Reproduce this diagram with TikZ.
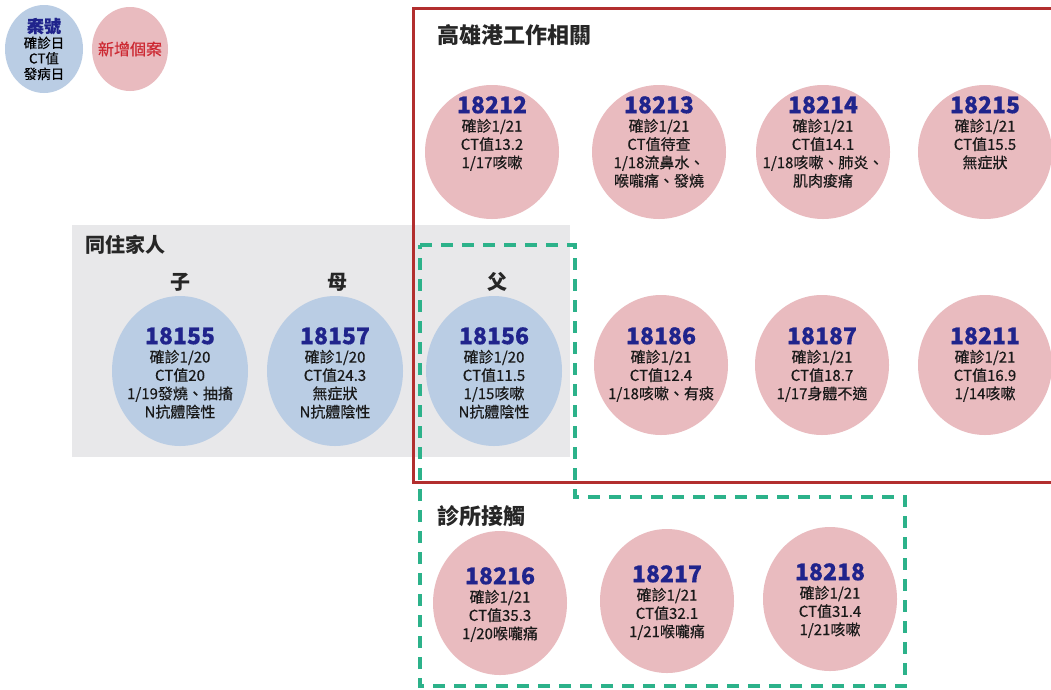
\documentclass[tikz,border=0pt]{standalone}
\usepackage{fontspec}
\setmainfont{Noto Sans CJK TC}
\newfontfamily\medfont{Noto Sans CJK TC}[FakeBold=0.4]
\usetikzlibrary{shapes.geometric}
\definecolor{pinkc}{RGB}{233,187,191}
\definecolor{bluec}{RGB}{186,205,228}
\definecolor{grayc}{RGB}{232,232,234}
\definecolor{redc}{RGB}{178,46,46}
\definecolor{greenc}{RGB}{44,178,138}
\definecolor{navyc}{RGB}{32,36,140}
\definecolor{legred}{RGB}{205,40,50}
\newcommand\cnum[1]{{\fontsize{23}{23}\selectfont\bfseries\color{navyc}#1}}
\tikzset{
  pcase/.style={ellipse, fill=pinkc, minimum width=134pt, minimum height=134pt, inner sep=0pt},
  bcase/.style={ellipse, fill=bluec, minimum width=136pt, minimum height=150pt, inner sep=0pt},
  ctext/.style={align=center, inner sep=0pt, anchor=north, font=\medfont\fontsize{15}{18.3}\selectfont, text=black!90},
  title/.style={anchor=west, inner sep=0pt, font=\fontsize{22}{22}\selectfont\bfseries, text=black!85},
  rel/.style={inner sep=0pt, font=\fontsize{20}{20}\selectfont\bfseries, text=black!85},
  redframe/.style={draw=redc, line width=3pt},
  greenframe/.style={draw=greenc, line width=4pt, dash pattern=on 12pt off 9pt},
}
\begin{document}
\begin{tikzpicture}[x=1pt,y=-1pt]
\useasboundingbox (0,0) rectangle (1051,689);
\fill[white] (0,0) rectangle (1051,689);
% legend
\node[ellipse, fill=bluec, minimum width=78pt, minimum height=88pt, inner sep=0pt] (legb) at (44,49) {};
\node[align=center, inner sep=0pt, font=\medfont\fontsize{13.5}{15.5}\selectfont] (legbt) at (44,49)
  {{\fontsize{17}{17}\selectfont\bfseries\color{navyc}案號}\\確診日\\CT值\\發病日};
\node[ellipse, fill=pinkc, minimum width=76pt, minimum height=84pt, inner sep=0pt] (legp) at (130,49) {};
\node[inner sep=0pt, font=\medfont\fontsize{16}{16}\selectfont, text=legred] (legpt) at (130,49) {新增個案};
% gray family box
\fill[grayc] (72,225) rectangle (570,457);
\node[title, font=\fontsize{20}{20}\selectfont\bfseries] (fam) at (85,245) {同住家人};
\node[rel] (son) at (180,282) {子};
\node[rel] (mom) at (337,282) {母};
\node[rel] (dad) at (497,282) {父};
% red frame
\draw[redframe] (1055,8) -- (413,8) -- (413,482) -- (1055,482);
\node[title] (port) at (437,35) {高雄港工作相關};
% green frame
\draw[greenframe] (420,245) -- (575,245) -- (575,497) -- (905,497) -- (905,686) -- (420,686) -- cycle;
\node[title] (clinic) at (437,516) {診所接觸};
% row 1
\node[pcase] (c18212) at (492,152) {};
\node[ctext] (t18212) at (492,96) {\cnum{18212}\\確診1/21\\CT值13.2\\1/17咳嗽};
\node[pcase] (c18213) at (659,152) {};
\node[ctext] (t18213) at (659,96) {\cnum{18213}\\確診1/21\\CT值待查\\1/18流鼻水、\\喉嚨痛、發燒};
\node[pcase] (c18214) at (823,152) {};
\node[ctext] (t18214) at (823,96) {\cnum{18214}\\確診1/21\\CT值14.1\\1/18咳嗽、肺炎、\\肌肉痠痛};
\node[pcase] (c18215) at (985,152) {};
\node[ctext] (t18215) at (985,96) {\cnum{18215}\\確診1/21\\CT值15.5\\無症狀};
% row 2 family
\node[bcase] (c18155) at (180,371) {};
\node[ctext] (t18155) at (180,327) {\cnum{18155}\\確診1/20\\CT值20\\1/19發燒、抽搐\\N抗體陰性};
\node[bcase] (c18157) at (335,371) {};
\node[ctext] (t18157) at (335,327) {\cnum{18157}\\確診1/20\\CT值24.3\\無症狀\\N抗體陰性};
\node[bcase] (c18156) at (494,371) {};
\node[ctext] (t18156) at (494,327) {\cnum{18156}\\確診1/20\\CT值11.5\\1/15咳嗽\\N抗體陰性};
% row 2 port
\node[pcase, minimum height=140pt] (c18186) at (661,365) {};
\node[ctext] (t18186) at (661,327) {\cnum{18186}\\確診1/21\\CT值12.4\\1/18咳嗽、有痰};
\node[pcase, minimum height=140pt] (c18187) at (822,365) {};
\node[ctext] (t18187) at (822,327) {\cnum{18187}\\確診1/21\\CT值18.7\\1/17身體不適};
\node[pcase, minimum height=140pt] (c18211) at (985,365) {};
\node[ctext] (t18211) at (985,327) {\cnum{18211}\\確診1/21\\CT值16.9\\1/14咳嗽};
% row 3 clinic
\node[pcase, minimum height=144pt] (c18216) at (500,603) {};
\node[ctext] (t18216) at (500,567) {\cnum{18216}\\確診1/21\\CT值35.3\\1/20喉嚨痛};
\node[pcase, minimum height=144pt] (c18217) at (667,601) {};
\node[ctext] (t18217) at (667,565) {\cnum{18217}\\確診1/21\\CT值32.1\\1/21喉嚨痛};
\node[pcase, minimum height=144pt] (c18218) at (830,599) {};
\node[ctext] (t18218) at (830,563) {\cnum{18218}\\確診1/21\\CT值31.4\\1/21咳嗽};
\end{tikzpicture}
\end{document}
